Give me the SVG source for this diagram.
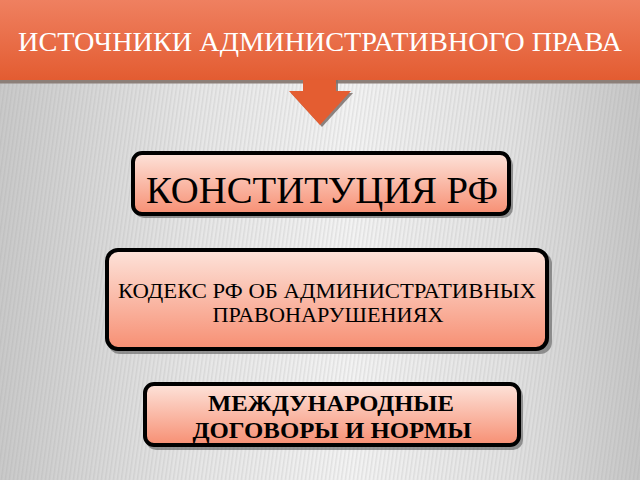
<svg xmlns="http://www.w3.org/2000/svg" width="640" height="480" viewBox="0 0 640 480">
<defs>
<linearGradient id="bg" x1="0" y1="0" x2="1" y2="0">
<stop offset="0" stop-color="#c9c9c9"/>
<stop offset="0.3" stop-color="#e6e6e6"/>
<stop offset="0.55" stop-color="#f3f3f3"/>
<stop offset="0.8" stop-color="#e2e2e2"/>
<stop offset="1" stop-color="#c6c6c6"/>
</linearGradient>
<pattern id="stripes" width="4" height="8" patternUnits="userSpaceOnUse" patternTransform="skewX(-8)">
<rect x="0" y="0" width="1.5" height="8" fill="#9a9a9a" opacity="0.2"/>
</pattern>
<linearGradient id="banner" x1="0" y1="0" x2="0" y2="1">
<stop offset="0" stop-color="#ef8060"/>
<stop offset="1" stop-color="#e35c31"/>
</linearGradient>
<linearGradient id="box" x1="0" y1="0" x2="0" y2="1">
<stop offset="0" stop-color="#fde3da"/>
<stop offset="1" stop-color="#f78f73"/>
</linearGradient>
<style>
.node rect.sh{fill:#6e6e6e;opacity:0.7}
.node rect.bx{fill:url(#box);stroke:#000;stroke-width:4}
.t{font-family:"Liberation Serif","Times New Roman",serif;fill:#000;text-anchor:middle}
</style>
</defs>
<rect width="640" height="480" fill="url(#bg)"/>
<rect width="640" height="480" fill="url(#stripes)"/>
<g id="title">
<rect x="0" y="80" width="640" height="3.5" fill="#8c7f78"/>
<rect x="0" y="0" width="640" height="80" fill="url(#banner)"/>
<text x="320" y="51" font-family="Liberation Serif, Times New Roman, serif" font-size="27.5" fill="#fff" text-anchor="middle" textLength="604" lengthAdjust="spacingAndGlyphs">ИСТОЧНИКИ АДМИНИСТРАТИВНОГО ПРАВА</text>
</g>
<g id="connectors">
<polygon points="305,80 338,80 338,93 353,93 322,127 291,93 305,93" fill="#7a706c" opacity="0.85"/>
<polygon points="303,80 336,80 336,91 351,91 320,125 289,91 303,91" fill="#e45d31"/>
</g>
<g id="n1" class="node">
<rect class="sh" x="134" y="155" width="379" height="63" rx="10"/>
<rect class="bx" x="133" y="153" width="376" height="61" rx="9"/>
<text class="t" x="322" y="203" font-size="37" textLength="352" lengthAdjust="spacingAndGlyphs">КОНСТИТУЦИЯ РФ</text>
</g>
<g id="n2" class="node">
<rect class="sh" x="108" y="252" width="444" height="102" rx="12"/>
<rect class="bx" x="107" y="250" width="440" height="99" rx="11"/>
<text class="t" font-size="21"><tspan x="327" y="298" textLength="418" lengthAdjust="spacingAndGlyphs">КОДЕКС РФ ОБ АДМИНИСТРАТИВНЫХ</tspan><tspan x="328" y="322" textLength="231" lengthAdjust="spacingAndGlyphs">ПРАВОНАРУШЕНИЯХ</tspan></text>
</g>
<g id="n3" class="node">
<rect class="sh" x="146" y="386" width="377" height="64" rx="10"/>
<rect class="bx" x="145" y="384" width="374" height="61" rx="9"/>
<text class="t" font-size="23" font-weight="bold"><tspan x="331" y="411" textLength="246" lengthAdjust="spacingAndGlyphs">МЕЖДУНАРОДНЫЕ</tspan><tspan x="332" y="438" textLength="279" lengthAdjust="spacingAndGlyphs">ДОГОВОРЫ И НОРМЫ</tspan></text>
</g>
</svg>
